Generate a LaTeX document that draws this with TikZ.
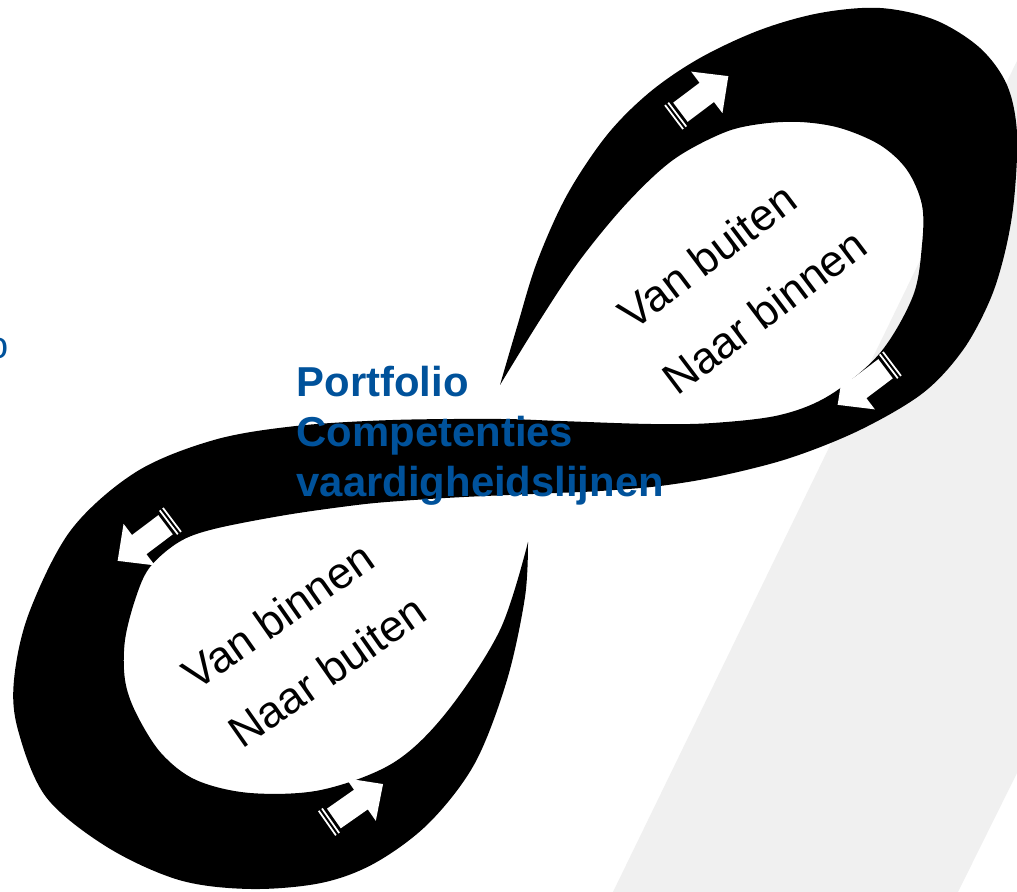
\documentclass[tikz,border=0pt]{standalone}
\usepackage{fontspec}
\setmainfont{Liberation Sans}
\usepackage{xcolor}
\usepackage{tikz}
\usetikzlibrary{calc}
\definecolor{PortBlue}{RGB}{0,82,155}
\definecolor{BandGrey}{RGB}{240,240,240}
\tikzset{%Global config
	>=latex,
	color = black ,
	%Styles
	Ribbon/.style={
		fill=black,
		draw=none,
	},
	Band/.style={
		fill=BandGrey,
		draw=none,
	},
	WArrow/.style={
		fill=white,
		draw=none,
	},
	Stripe/.style={
		draw=white,
		line width=0.5pt,
	},
	Loop/.style={
		font=\fontsize{12.6}{15}\selectfont,
		inner sep=0pt,
		anchor=base west,
	},
	Blue/.style={
		text=PortBlue,
		font=\bfseries\fontsize{11.9}{14.2}\selectfont,
		inner sep=0pt,
		anchor=base west,
	}
}
\newcommand{\flowarrow}[3]{% x, y, angle
	\begin{scope}[shift={(#1,#2)},rotate=#3]
		\fill[WArrow] (-27,-12) -- (6,-12) -- (6,-26) -- (33,0) -- (6,26) -- (6,12) -- (-27,12) -- cycle;
		\draw[Stripe] (-31,-15) -- (-31,15);
		\draw[Stripe] (-35,-15) -- (-35,15);
	\end{scope}
}

\begin{document}
\begin{tikzpicture}[x=0.1mm,y=-0.1mm]
	\useasboundingbox (0,0) rectangle (1017,892);
	\clip (0,0) rectangle (1017,892);
	\fill[white] (0,0) rectangle (1017,892);
	
	% grey band in the back
	\fill[Band] (613,892) -- (1017,61) -- (1017,773) -- (958,892) -- cycle;
	
	% the figure eight
	\fill[Ribbon] plot[smooth, tension=0.55] coordinates {
		(500,385) (517,327) (537,262) (567,195) (607,135) (650,92) (700,58)
		(760,30) (820,13) (880,8) (935,20) (980,48) (1007,85) (1017,133)
		(1014,200) (1005,252) (990,300) (963,350) (923,393) (860,430)
		(790,458) (720,476) (660,486) (600,491) (557,493) (464,497) (400,501)
		(357,505) (286,515) (214,529) (179,542) (150,567) (136,597) (125,640)
		(125,680) (136,713) (161,753) (196,780) (250,793) (321,790) (393,763)
		(446,713) (500,630) (528,542)}
	-- plot[smooth, tension=0.55] coordinates {
		(528,542) (525,597) (507,680) (475,763) (429,823) (375,863) (321,883)
		(250,889) (179,880) (107,847) (46,797) (18,730) (14,680) (29,613)
		(71,530) (136,472) (214,440) (296,426) (393,420) (500,419) (560,421)
		(650,424) (713,423) (780,415) (830,395) (880,353) (913,296) (922,245)
		(922,205) (907,170) (880,145) (840,128) (800,122) (760,124) (723,133)
		(673,160) (627,203) (580,260) (540,320) (500,385)}
	-- cycle;
	
	% arrows on the band
	\flowarrow{702}{96}{37}
	\flowarrow{864}{385}{217}
	\flowarrow{144}{541}{217}
	\flowarrow{356}{803}{35}
	
	% texts in the loops
	\node[Loop, rotate=37] (vanbuiten) at (633,332) {Van buiten};
	\node[Loop, rotate=37] (naarbinnen) at (677,397) {Naar binnen};
	\node[Loop, rotate=35] (vanbinnen) at (196,692) {Van binnen};
	\node[Loop, rotate=35] (naarbuiten) at (242,750) {Naar buiten};
	
	% blue title
	\node[Blue] (port) at (296,397) {Portfolio};
	\node[Blue] (comp) at (296,447) {Competenties};
	\node[Blue] (vaar) at (296,497) {vaardigheidslijnen};
	\node[text=PortBlue, font=\fontsize{10.8}{13}\selectfont, inner sep=0pt] (cut) at (-2,348) {o};
\end{tikzpicture}
\end{document}
